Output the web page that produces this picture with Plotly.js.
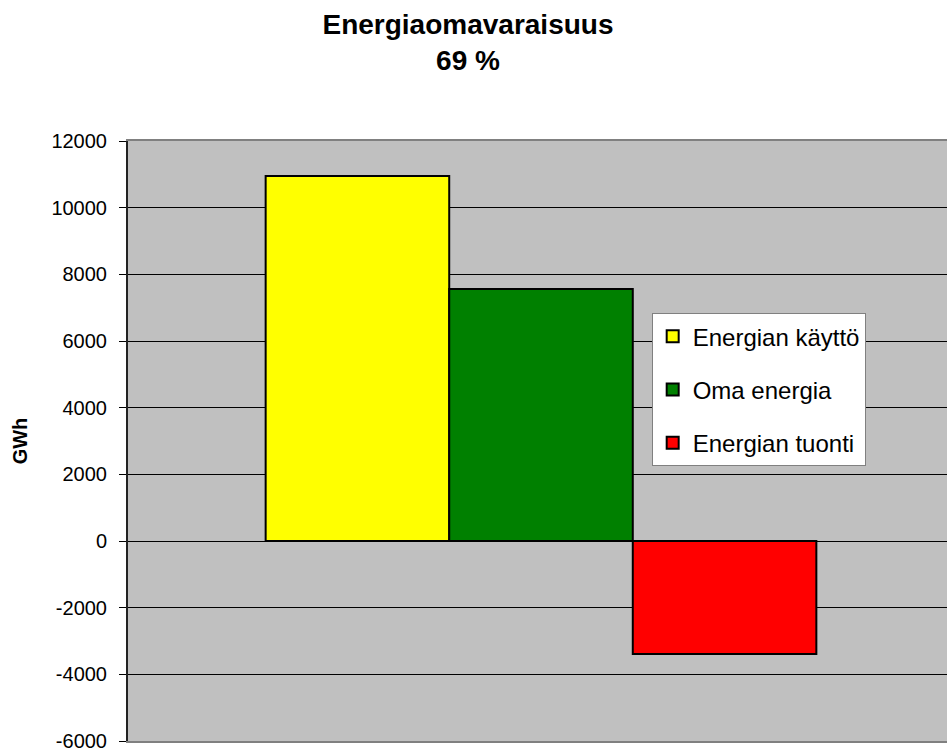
<!DOCTYPE html>
<html>
<head>
<meta charset="utf-8">
<script src="https://cdn.plot.ly/plotly-3.0.1.min.js"></script>
<style>
html,body{margin:0;padding:0;overflow:hidden;background:#fff;}
#chart{width:960px;height:770px;}
</style>
</head>
<body>
<div id="chart"></div>
<script>
const category = ["Energiaomavaraisuus"];
const seriesNames = ["Energian käyttö", "Oma energia", "Energian tuonti"];
const seriesValues = [[10950], [7560], [-3390]];
const seriesColors = ["#FFFF00", "#008000", "#FF0000"];
const tickVals = [-6000, -4000, -2000, 0, 2000, 4000, 6000, 8000, 10000, 12000];
const tickText = ["-6000", "-4000", "-2000", "0", "2000", "4000", "6000", "8000", "10000", "12000"];
const titleText = "<b>Energiaomavaraisuus<br>69 %</b>";
const yTitle = "<b>GWh</b>";

const traces = seriesNames.map((n, i) => ({
  type: "bar",
  name: n,
  x: category,
  y: seriesValues[i],
  legendgroup: "g" + i,
  marker: {color: seriesColors[i], line: {color: "#000", width: 2}},
  hoverinfo: "none"
}));

const layout = {
  width: 960, height: 770,
  margin: {l: 128, r: 6, t: 141, b: 29},
  paper_bgcolor: "#fff",
  plot_bgcolor: "#C0C0C0",
  font: {family: "Arial, Liberation Sans, sans-serif", color: "#000", size: 20},
  title: {text: titleText, x: 468 / 960, xref: "container", xanchor: "center",
          y: 1 - 34 / 770, yref: "container", yanchor: "top",
          font: {size: 28, family: "Arial, Liberation Sans, sans-serif"}},
  barmode: "group",
  bargap: 0.3333,
  bargroupgap: 0,
  showlegend: true,
  legend: {
    x: 0.634, xanchor: "left", y: 0.713, yanchor: "top",
    bgcolor: "#fff", bordercolor: "#808080", borderwidth: 1,
    font: {size: 24},
    traceorder: "grouped", tracegroupgap: 19,
    itemclick: false, itemdoubleclick: false
  },
  xaxis: {
    type: "category", showticklabels: false, ticks: "",
    showline: true, linecolor: "#808080", linewidth: 2, mirror: true,
    showgrid: false, zeroline: false, fixedrange: true
  },
  yaxis: {
    range: [-6000, 12000], tickvals: tickVals, ticktext: tickText,
    ticks: "outside", ticklen: 7, tickcolor: "#000", tickwidth: 1,
    ticklabelstandoff: 8,
    showline: true, linecolor: "#222", linewidth: 2,
    showgrid: true, gridcolor: "#000", gridwidth: 1,
    zeroline: true, zerolinecolor: "#000", zerolinewidth: 1,
    tickfont: {size: 20},
    title: {text: yTitle, font: {size: 20}, standoff: 18},
    fixedrange: true
  }
};

Plotly.newPlot("chart", traces, layout, {displayModeBar: false, staticPlot: true});
</script>
</body>
</html>
